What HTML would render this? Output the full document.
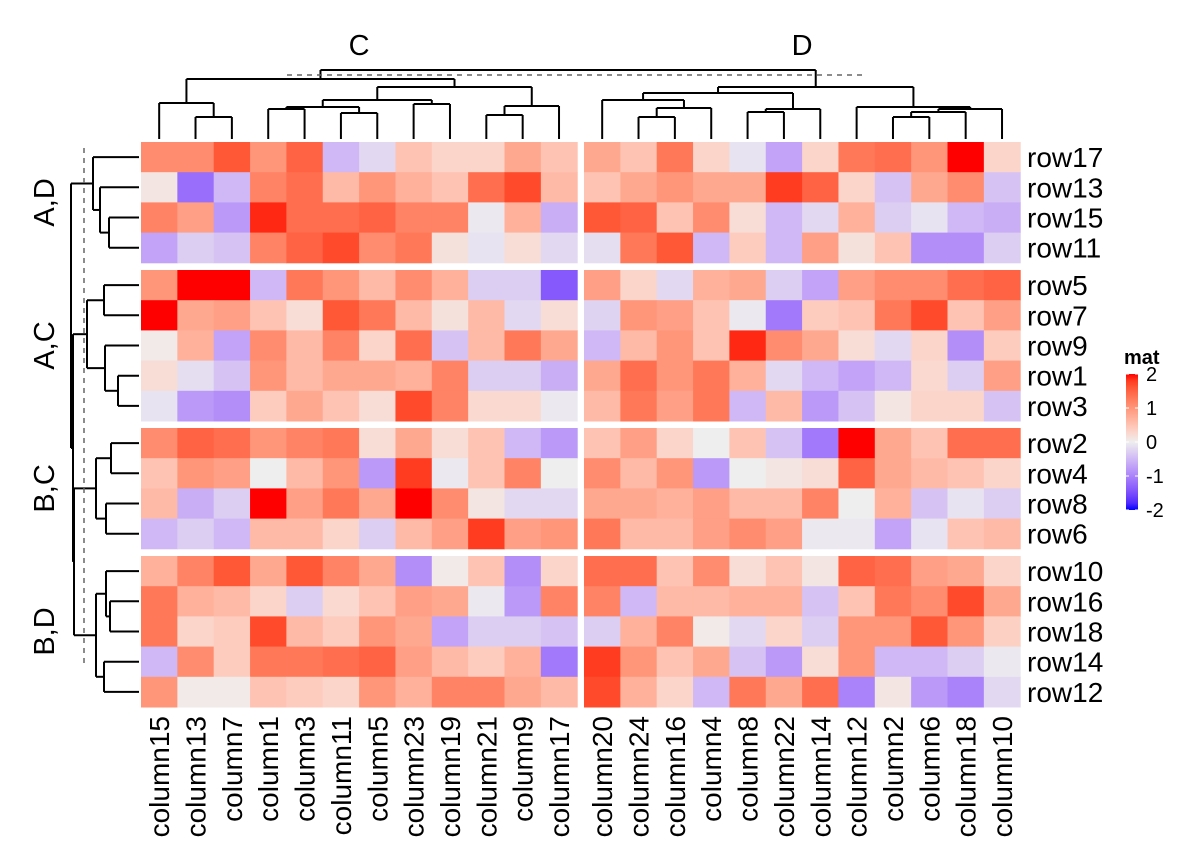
<!DOCTYPE html>
<html><head><meta charset="utf-8"><style>
html,body{margin:0;padding:0;background:#fff;}
svg{display:block;font-family:"Liberation Sans",Arial,sans-serif;}
</style></head><body>
<svg id="chart" width="1200" height="857" viewBox="0 0 1200 857"></svg>
<script>
const colNamesC = ["column15","column13","column7","column1","column3","column11","column5","column23","column19","column21","column9","column17"];
const colNamesD = ["column20","column24","column16","column4","column8","column22","column14","column12","column2","column6","column18","column10"];
const rowSlices = [["row17","row13","row15","row11"],["row5","row7","row9","row1","row3"],["row2","row4","row8","row6"],["row10","row16","row18","row14","row12"]];
const rowSliceLabels = ["A,D","A,C","B,C","B,D"];
const colSliceLabels = ["C","D"];
const legendTicks = [2,1,0,-1,-2];
// values per row: 12 C columns then 12 D columns
const row17 = [1.1,1.1,1.6,1.0,1.5,-0.5,-0.2,0.5,0.3,0.3,0.8,0.5, 0.8,0.5,1.3,0.3,-0.1,-0.7,0.3,1.3,1.4,1.0,2.0,0.3];
const row13 = [0.1,-1.2,-0.5,1.2,1.4,0.6,1.0,0.7,0.5,1.4,1.7,0.6, 0.5,0.8,1.0,0.8,0.8,1.8,1.5,0.3,-0.4,0.8,1.1,-0.4];
const row15 = [1.2,0.9,-0.8,1.9,1.4,1.4,1.5,1.2,1.2,-0.05,0.7,-0.6, 1.6,1.5,0.5,1.1,0.2,-0.5,-0.2,0.7,-0.3,-0.1,-0.5,-0.6];
const row11 = [-0.7,-0.3,-0.4,1.2,1.5,1.7,1.1,1.3,0.15,-0.1,0.2,-0.2, -0.15,1.3,1.6,-0.5,0.4,-0.5,0.9,0.15,0.5,-0.9,-0.9,-0.3];
const row5 = [1.0,2.0,2.0,-0.5,1.3,1.0,0.6,1.1,0.7,-0.3,-0.3,-1.4, 0.9,0.3,-0.2,0.7,0.8,-0.3,-0.7,0.9,1.1,1.1,1.4,1.5];
const row7 = [2.0,0.8,0.9,0.5,0.2,1.6,1.3,0.6,0.15,0.6,-0.2,0.2, -0.25,1.0,0.9,0.5,-0.05,-1.1,0.4,0.5,1.3,1.7,0.5,0.9];
const row9 = [0.05,0.7,-0.7,1.1,0.6,1.2,0.3,1.4,-0.4,0.6,1.3,0.8, -0.5,0.6,1.0,0.5,1.9,1.1,0.8,0.2,-0.2,0.3,-0.9,0.4];
const row1 = [0.2,-0.15,-0.4,1.0,0.6,0.8,0.8,0.7,1.2,-0.3,-0.3,-0.6, 0.8,1.4,1.0,1.3,0.7,-0.2,-0.5,-0.7,-0.5,0.25,-0.3,0.9];
const row3 = [-0.1,-0.8,-0.9,0.4,0.8,0.5,0.2,1.7,1.2,0.25,0.25,-0.05, 0.6,1.3,0.9,1.3,-0.5,0.6,-0.8,-0.4,0.1,0.3,0.3,-0.4];
const row2 = [1.1,1.5,1.4,1.0,1.2,1.3,0.2,0.8,0.2,0.5,-0.5,-0.8, 0.5,0.9,0.3,0.0,0.5,-0.4,-1.1,2.0,0.8,0.5,1.4,1.4];
const row4 = [0.5,1.0,0.9,0.0,0.6,1.0,-0.8,1.8,-0.05,0.5,1.2,0.0, 1.1,0.6,1.0,-0.8,0.0,0.1,0.2,1.5,0.8,0.6,0.5,0.3];
const row8 = [0.6,-0.6,-0.3,2.0,0.9,1.3,0.8,2.0,1.1,0.1,-0.2,-0.2, 0.8,0.8,0.7,0.9,0.6,0.6,1.2,0.0,0.7,-0.4,-0.1,-0.3];
const row6 = [-0.5,-0.3,-0.5,0.6,0.6,0.3,-0.3,0.6,0.9,1.8,0.9,1.0, 1.3,0.6,0.6,0.9,1.1,0.9,-0.05,-0.05,-0.7,-0.1,0.5,0.6];
const row10 = [0.7,1.2,1.6,0.8,1.6,1.2,0.8,-0.9,0.05,0.5,-0.9,0.3, 1.4,1.4,0.5,1.1,0.2,0.5,0.1,1.5,1.4,0.9,0.8,0.3];
const row16 = [1.3,0.7,0.6,0.3,-0.3,0.25,0.5,0.9,0.8,-0.05,-0.8,1.2, 1.2,-0.5,0.6,0.6,0.7,0.7,-0.4,0.5,1.3,1.1,1.7,0.8];
const row18 = [1.3,0.3,0.4,1.7,0.6,0.4,1.0,0.8,-0.7,-0.3,-0.3,-0.4, -0.3,0.7,1.2,0.05,-0.2,0.3,-0.3,1.0,1.0,1.6,1.0,0.35];
const row14 = [-0.5,1.1,0.4,1.3,1.3,1.4,1.5,0.9,0.6,0.4,0.7,-1.1, 1.8,1.0,0.5,0.8,-0.4,-0.8,0.2,1.0,-0.5,-0.5,-0.3,-0.05];
const row12 = [1.0,0.05,0.05,0.5,0.4,0.3,1.0,0.7,1.2,1.2,0.8,0.6, 1.7,0.7,0.3,-0.5,1.3,0.8,1.4,-1.0,0.1,-0.8,-1.0,-0.2];
const values = {row17,row13,row15,row11,row5,row7,row9,row1,row3,row2,row4,row8,row6,row10,row16,row18,row14,row12};

const NS="http://www.w3.org/2000/svg";
const svg=document.getElementById('chart');
function mk(tag,attrs,parent){const e=document.createElementNS(NS,tag);for(const k in attrs)e.setAttribute(k,attrs[k]);(parent||svg).appendChild(e);return e;}

function s2l(c){c/=255;return c<=0.04045?c/12.92:Math.pow((c+0.055)/1.055,2.4);}
function l2s(c){c=c<=0.0031308?12.92*c:1.055*Math.pow(c,1/2.4)-0.055;return Math.max(0,Math.min(255,Math.round(c*255)));}
const Wn=[0.95047,1,1.08883];
function f(t){return t>0.008856?Math.cbrt(t):7.787*t+16/116;}
function fi(t){return t>0.206893?t*t*t:(t-16/116)/7.787;}
function toLab(r,g,b){r=s2l(r);g=s2l(g);b=s2l(b);
 const X=(0.4124*r+0.3576*g+0.1805*b)/Wn[0],Y=(0.2126*r+0.7152*g+0.0722*b)/Wn[1],Z=(0.0193*r+0.1192*g+0.9505*b)/Wn[2];
 return [116*f(Y)-16,500*(f(X)-f(Y)),200*(f(Y)-f(Z))];}
function fromLab(L,a,bb){const fy=(L+16)/116,fx=fy+a/500,fz=fy-bb/200;
 const X=fi(fx)*Wn[0],Y=fi(fy)*Wn[1],Z=fi(fz)*Wn[2];
 const r=3.2406*X-1.5372*Y-0.4986*Z,g=-0.9689*X+1.8758*Y+0.0415*Z,b=0.0557*X-0.2040*Y+1.0570*Z;
 return `rgb(${l2s(r)},${l2s(g)},${l2s(b)})`;}
const LB=toLab(0,0,255),LW=toLab(238,238,238),LR=toLab(255,0,0);
function color(v){v=Math.max(-2,Math.min(2,v));let A,B,t;
 if(v<0){A=LW;B=LB;t=-v/2;}else{A=LW;B=LR;t=v/2;}
 return fromLab(A[0]+(B[0]-A[0])*t,A[1]+(B[1]-A[1])*t,A[2]+(B[2]-A[2])*t);}

const CW=36.35, CX0=[141,584], RH=30.2, RY0=[142,270,428,556];
function colX(slice,i){return CX0[slice]+i*CW;}
function rowY(slice,j){return RY0[slice]+j*RH;}
const colNames=[colNamesC,colNamesD];

const gCells=mk('g',{});


rowSlices.forEach((rows,si)=>{rows.forEach((rn,j)=>{
  const vals=values[rn];
  for(let cs=0;cs<2;cs++){for(let i=0;i<12;i++){
    const v=vals[cs*12+i];
    const r=mk('rect',{x:colX(cs,i),y:rowY(si,j),width:CW+0.5,height:RH+0.5,fill:color(v)},gCells);
    
    
  }}
});});

rowSlices.forEach((rows,si)=>{rows.forEach((rn,j)=>{
  const t=mk('text',{x:1027,y:rowY(si,j)+RH/2+10,'font-size':28,fill:'#000'});
  t.textContent=rn;
  
  
});});
colNames.forEach((names,cs)=>{names.forEach((cn,i)=>{
  const x=colX(cs,i)+CW/2+10, y=716;
  const t=mk('text',{x:x,y:y,'font-size':28,fill:'#000','text-anchor':'end',transform:`rotate(-90 ${x} ${y})`});
  t.textContent=cn;
  
  
});});
rowSliceLabels.forEach((lab,si)=>{
  const n=rowSlices[si].length, cy=RY0[si]+n*RH/2, x=54;
  const t=mk('text',{x:x,y:cy,'font-size':29,fill:'#000','text-anchor':'middle',transform:`rotate(-90 ${x} ${cy})`});
  t.textContent=lab;
  
  
});
colSliceLabels.forEach((lab,cs)=>{
  const t=mk('text',{x:CX0[cs]+6*CW,y:55,'font-size':29,fill:'#000','text-anchor':'middle'});
  t.textContent=lab;
  
  
});

const dG=mk('g',{stroke:'#000','stroke-width':2,fill:'none'});


function line(x1,y1,x2,y2,dash){const l=mk('line',{x1,y1,x2,y2},dG);if(dash){l.setAttribute('stroke-dasharray','5,5');l.setAttribute('stroke','#666');l.setAttribute('stroke-width',1.5);}return l;}
function cx(cs,i){return colX(cs,i)+CW/2;}
const leafY=139;
function leaf(cs,i){return {x:cx(cs,i),y:leafY};}
function join(a,b,h){line(a.x,a.y,a.x,h);line(b.x,b.y,b.x,h);line(a.x,h,b.x,h);return {x:(a.x+b.x)/2,y:h};}
let c1=join(leaf(0,1),leaf(0,2),117); let cL=join(leaf(0,0),c1,103);
let a1=join(leaf(0,3),leaf(0,4),109), a2=join(leaf(0,5),leaf(0,6),113), a3=join(a1,a2,107);
let a4=join(leaf(0,7),leaf(0,8),104), a5=join(a3,a4,100);
let b1=join(leaf(0,9),leaf(0,10),115), b2=join(b1,leaf(0,11),106);
let cR=join(a5,b2,87); let cRoot=join(cL,cR,79);
let d1=join(leaf(1,1),leaf(1,2),117), d2=join(d1,leaf(1,3),108), d3=join(leaf(1,0),d2,100);
let e1=join(leaf(1,4),leaf(1,5),112), e2=join(e1,leaf(1,6),109), dL=join(d3,e2,93);
let f1=join(leaf(1,8),leaf(1,9),117), f2=join(f1,leaf(1,10),112), f3=join(f2,leaf(1,11),109), f4=join(leaf(1,7),f3,107);
let dRoot=join(dL,f4,87);
join(cRoot,dRoot,70);
line(287,75,863,75,true);
const leafX=139;
function rleaf(si,j){return {x:leafX,y:rowY(si,j)+RH/2};}
function rjoin(a,b,h){line(a.x,a.y,h,a.y);line(b.x,b.y,h,b.y);line(h,a.y,h,b.y);return {x:h,y:(a.y+b.y)/2};}
let s1=rjoin(rleaf(0,0),rjoin(rleaf(0,1),rjoin(rleaf(0,2),rleaf(0,3),109),100),93);
let s2=rjoin(rjoin(rleaf(1,0),rleaf(1,1),104),rjoin(rleaf(1,2),rjoin(rleaf(1,3),rleaf(1,4),118),105),87);
let s3=rjoin(rjoin(rleaf(2,0),rleaf(2,1),111),rjoin(rleaf(2,2),rleaf(2,3),106),96);
let s4=rjoin(rjoin(rleaf(3,0),rjoin(rleaf(3,1),rleaf(3,2),110),106),rjoin(rleaf(3,3),rleaf(3,4),104),96);
let s34=rjoin(s3,s4,74); let s234=rjoin(s2,s34,73); rjoin(s1,s234,71);
line(84,148,84,668,true);

const lg=mk('g',{});


const lt=mk('text',{x:1124,y:364,'font-size':20,'font-weight':'bold',fill:'#000'},lg);
lt.textContent='mat';


const defs=mk('defs',{});
const grad=mk('linearGradient',{id:'lgGrad',x1:0,y1:0,x2:0,y2:1},defs);
for(let k=0;k<=20;k++){const v=2-4*k/20;mk('stop',{offset:(k/20),'stop-color':color(v)},grad);}
const barTop=374, barBot=510, barX=1126, barW=12;
const bar=mk('rect',{x:barX,y:barTop,width:barW,height:barBot-barTop,fill:'url(#lgGrad)'},lg);


function legY(v){return barTop+(2-v)/4*(barBot-barTop);}
legendTicks.forEach(v=>{
  const y=legY(v);
  mk('line',{x1:barX,y1:y,x2:barX+3,y2:y,stroke:'#fff','stroke-width':1},lg);
  mk('line',{x1:barX+barW-3,y1:y,x2:barX+barW,y2:y,stroke:'#fff','stroke-width':1},lg);
  const t=mk('text',{x:1146,y:y+7,'font-size':20,fill:'#000'},lg);
  t.textContent=String(v);
  
  
});
</script>
</body></html>
